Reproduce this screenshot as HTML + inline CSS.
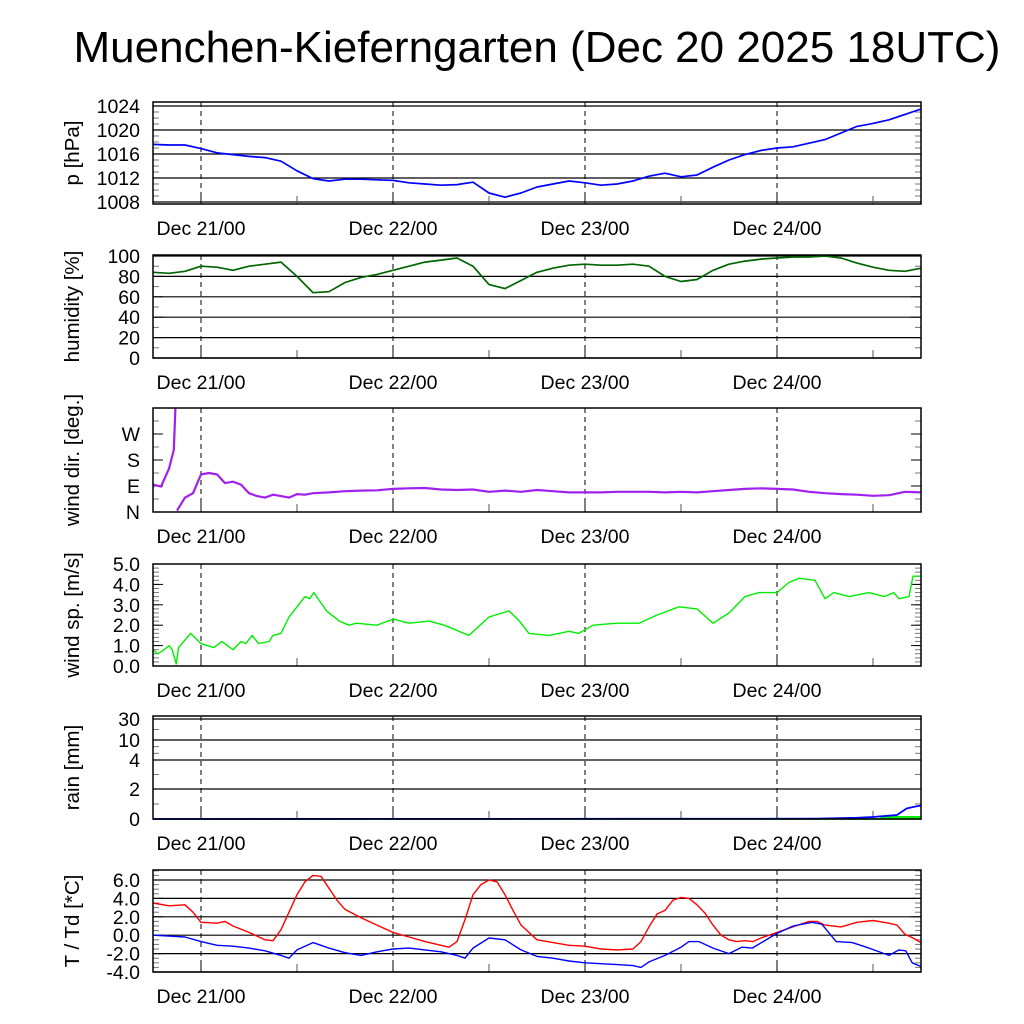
<!DOCTYPE html>
<html><head><meta charset="utf-8"><style>
body{margin:0;background:#fff;}
svg{display:block;font-family:"Liberation Sans",sans-serif;}
</style></head><body>
<svg id="chart" width="1024" height="1024" viewBox="0 0 1024 1024" xmlns="http://www.w3.org/2000/svg">
<text x="537" y="62" font-size="44" text-anchor="middle">Muenchen-Kieferngarten (Dec 20 2025 18UTC)</text>
</svg>
<script>
// ---- data (hours since Dec 20 18UTC) ----
const dayLabels = ["Dec 21/00","Dec 22/00","Dec 23/00","Dec 24/00"];
const dayHours = [6,30,54,78];
const pHours = [0,2,4,6,8,10,12,14,16,18,20,22,24,26,28,30,32,34,36,38,40,42,44,46,48,50,52,54,56,58,60,62,64,66,68,70,72,74,76,78,80,82,84,86,88,90,92,94,96];
const pressure = [1017.6,1017.5,1017.5,1016.9,1016.2,1015.9,1015.6,1015.4,1014.8,1013.2,1011.9,1011.5,1011.8,1011.8,1011.7,1011.6,1011.2,1011.0,1010.8,1010.9,1011.3,1009.5,1008.8,1009.5,1010.5,1011.0,1011.5,1011.2,1010.8,1011.0,1011.5,1012.3,1012.8,1012.2,1012.5,1013.8,1015.0,1015.9,1016.6,1017.0,1017.2,1017.8,1018.4,1019.5,1020.6,1021.1,1021.7,1022.6,1023.5];
const pTicks = [1008,1012,1016,1020,1024];
const humidity = [84,83,85,90,89,86,90,92,94,80,64,65,74,79,82,86,90,94,96,98,90,72,68,76,84,88,91,92,91,91,92,90,80,75,77,86,92,95,97,98,99,99,100,98,93,89,86,85,88];
const hTicks = [0,20,40,60,80,100];
const dirHours = [0,1,2,2.6,2.8,3,4,5,6,7,8,9,10,11,12,13,14,15,16,17,18,19,20,22,24,26,28,30,32,34,36,38,40,42,44,46,48,50,52,54,56,58,60,62,64,66,68,70,72,74,76,78,80,82,84,86,88,90,92,94,96];
const windDir = [95,88,150,215,358,5,50,65,130,135,130,100,105,95,65,55,50,60,55,50,62,60,65,68,72,74,75,80,82,83,78,76,78,70,74,70,76,72,68,68,68,70,70,70,68,70,68,72,76,80,82,80,78,70,65,62,60,56,58,70,68];
const dirTicks = [0,90,180,270];
const dirTickLabels = ["N","E","S","W"];
const spdHours = [0,0.6,1.4,2,2.4,2.9,3.2,4.7,6,7.6,8.6,10,11,11.6,12.4,13.2,14.5,15,16,17,18.2,19,19.6,20.1,21.7,23.3,24.5,25.4,28,30,32,34.5,36.4,39.5,42,44.5,45.8,47,49.5,52,53.2,55,58,60.75,63,65.75,68,70,72,74,75.75,78,79.5,80.75,82.75,84,85.1,87,89.5,91.4,92.6,93.25,94.5,95,96];
const windSpeed = [0.8,0.6,0.8,1.0,0.8,0.1,0.9,1.6,1.1,0.9,1.2,0.8,1.2,1.1,1.5,1.1,1.2,1.5,1.6,2.4,3.0,3.4,3.3,3.6,2.7,2.2,2.0,2.1,2.0,2.3,2.1,2.2,2.0,1.5,2.4,2.7,2.2,1.6,1.5,1.7,1.6,2.0,2.1,2.1,2.5,2.9,2.8,2.1,2.6,3.4,3.6,3.6,4.1,4.3,4.2,3.3,3.6,3.4,3.6,3.4,3.6,3.3,3.4,4.4,4.4];
const spdTicks = [0,1,2,3,4,5];
const rainHours = [0,83,88,90,93,94.2,95,96];
const rainSum = [0,0.02,0.08,0.13,0.27,0.7,0.8,0.9];
const rateHours = [0,91,91.01,96];
const rainRate = [0,0,0.15,0.15];
const rainTicks = [0,2,4,10,30];
const tHours = [0,2,4,5,6,8,9,10,12,14,15,16,17,18,19,20,21,22,23,24,26,28,30,32,34,36,37,38,39,40,41,42,43,44,45,46,48,50,52,54,56,58,60,61,62,63,64,65,66,67,68,69,70,71,72,73,74,75,76,78,80,82,83,84,86,88,90,92,93,94,95,96];
const temp = [3.5,3.2,3.3,2.5,1.4,1.3,1.5,1.0,0.3,-0.5,-0.6,0.6,2.5,4.4,5.8,6.5,6.4,5.1,3.8,2.8,1.9,1.1,0.3,-0.2,-0.7,-1.1,-1.3,-0.7,1.7,4.4,5.5,6.0,5.8,4.4,2.7,1.1,-0.5,-0.8,-1.1,-1.2,-1.5,-1.6,-1.5,-0.7,0.9,2.3,2.7,3.8,4.1,4.0,3.3,2.4,1.1,0.0,-0.5,-0.7,-0.6,-0.7,-0.3,0.3,0.9,1.5,1.5,1.1,0.9,1.4,1.6,1.3,1.1,0.1,-0.3,-0.8];
const tdHours = [0,2,4,6,8,10,12,14,16,17,18,19,20,21,22,24,26,28,30,32,34,36,38,39,40,42,44,46,48,50,52,54,56,58,60,61,62,64,66,67,68.25,70,72,73.6,74.9,78,80,82.4,83.6,85.4,87.4,89.5,92,93.25,94.1,94.9,96];
const dewpoint = [0.0,-0.1,-0.2,-0.7,-1.1,-1.2,-1.4,-1.7,-2.2,-2.5,-1.6,-1.2,-0.8,-1.1,-1.4,-1.9,-2.2,-1.8,-1.5,-1.4,-1.6,-1.8,-2.2,-2.5,-1.4,-0.3,-0.5,-1.6,-2.3,-2.5,-2.8,-3.0,-3.1,-3.2,-3.3,-3.5,-2.9,-2.2,-1.3,-0.7,-0.7,-1.4,-2.0,-1.3,-1.4,0.2,1.0,1.4,1.2,-0.7,-0.8,-1.4,-2.2,-1.6,-1.7,-3.0,-3.4];
const tTicks = [-4,-2,0,2,4,6];

const NS="http://www.w3.org/2000/svg";
const svg=document.getElementById('chart');
const X0=153,X1=921,H=96;
const xs=h=>X0+(X1-X0)*h/H;
function el(tag,attrs,parent){const e=document.createElementNS(NS,tag);for(const k in attrs)e.setAttribute(k,attrs[k]);(parent||svg).appendChild(e);return e;}

function panel(id,top,bot,title,ysc,ticks,tickLabels,grid,minor){
  const g=el('g',{});
  
  
  if(grid){ticks.forEach(v=>{const y=ysc(v);const l=el('line',{x1:X0,x2:X1,y1:y,y2:y,stroke:'#000','stroke-width':1.2},g);
    
    });}
  minor.forEach(v=>{const y=ysc(v);el('line',{x1:X0,x2:X0+6,y1:y,y2:y,stroke:'#777','stroke-width':1},g);el('line',{x1:X1-6,x2:X1,y1:y,y2:y,stroke:'#777','stroke-width':1},g);});
  ticks.forEach(v=>{const y=ysc(v);el('line',{x1:X0,x2:X0+10,y1:y,y2:y,stroke:'#000','stroke-width':1},g);el('line',{x1:X1-10,x2:X1,y1:y,y2:y,stroke:'#000','stroke-width':1},g);});
  dayHours.forEach((h,i)=>{const x=xs(h);const l=el('line',{x1:x,x2:x,y1:top,y2:bot,stroke:'#000','stroke-width':1,'stroke-dasharray':'5,4'},g);
    
    
    el('line',{x1:x,x2:x,y1:bot-10,y2:bot,stroke:'#000','stroke-width':1},g);
    const t=el('text',{x:x,y:bot+31,'font-size':19.5,'text-anchor':'middle'},g);t.textContent=dayLabels[i];
    
    
    el('line',{x1:xs(h+12),x2:xs(h+12),y1:bot-8,y2:bot,stroke:'#555','stroke-width':1},g);
  });
  ticks.forEach((v,i)=>{const t=el('text',{x:X0-13,y:ysc(v)+7,'font-size':19.5,'text-anchor':'end'},g);t.textContent=tickLabels[i];
    
    });
  const cy=(top+bot)/2;
  const tt=el('text',{x:0,y:0,'font-size':20.5,'text-anchor':'middle',transform:`translate(79,${cy}) rotate(-90)`},g);tt.textContent=title;
  
  
  return g;
}
function frame(g,top,bot){el('rect',{x:X0,y:top,width:X1-X0,height:bot-top,fill:'none',stroke:'#000','stroke-width':1.5},g);}
function line(g,hours,vals,ysc,color,name,w){
  let d='';hours.forEach((h,i)=>{d+=(i?'L':'M')+xs(h).toFixed(1)+','+ysc(vals[i]).toFixed(1);});
  const p=el('path',{d:d,fill:'none',stroke:color,'stroke-width':w||1.7,'stroke-linejoin':'round'},g);
  
  
  return p;
}
const rng=(a,b,s)=>{const r=[];for(let v=a;v<=b+1e-9;v+=s)r.push(+v.toFixed(3));return r;};

{const top=102,bot=204;const ys=v=>106+(1024-v)*6;
 const g=panel('pressure',top,bot,'p [hPa]',ys,pTicks,pTicks.map(String),true,rng(1008,1024,1));
 line(g,pHours,pressure,ys,'#0000ff','pressure-line');frame(g,top,bot);}
{const top=255,bot=358;const ys=v=>358-v*1.02;
 const g=panel('humidity',top,bot,'humidity [%]',ys,hTicks,hTicks.map(String),true,rng(0,100,10));
 line(g,pHours,humidity,ys,'#006400','humidity-line');frame(g,top,bot);}
{const top=408,bot=512;const ys=v=>512-v*26/90;
 const g=panel('wind-dir',top,bot,'wind dir. [deg.]',ys,dirTicks,dirTickLabels,false,rng(0,360,45));
 let segH=[dirHours[0]],segV=[windDir[0]];
 for(let i=1;i<dirHours.length;i++){
   if(Math.abs(windDir[i]-windDir[i-1])>180){line(g,segH,segV,ys,'#a020f0','wind-dir-line',2.2);segH=[];segV=[];}
   segH.push(dirHours[i]);segV.push(windDir[i]);
 }
 line(g,segH,segV,ys,'#a020f0','wind-dir-line',2.2);frame(g,top,bot);}
{const top=564,bot=666;const ys=v=>666-v*20.4;
 const g=panel('wind-speed',top,bot,'wind sp. [m/s]',ys,spdTicks,spdTicks.map(v=>v.toFixed(1)),false,rng(0,5,0.2));
 line(g,spdHours,windSpeed,ys,'#00ee00','wind-speed-line',1.4);frame(g,top,bot);}
{const top=716,bot=819;const tv=[0,2,4,10,30],ty=[819,789,760,740,719];
 const ys=v=>{for(let i=1;i<tv.length;i++){if(v<=tv[i])return ty[i-1]+(ty[i]-ty[i-1])*(v-tv[i-1])/(tv[i]-tv[i-1]);}return ty[ty.length-1];};
 const g=panel('rain',top,bot,'rain [mm]',ys,rainTicks,rainTicks.map(String),true,[1,3,6,8,20]);
 let d='M'+xs(rateHours[0])+','+ys(0);rateHours.forEach((h,i)=>{d+='L'+xs(h).toFixed(1)+','+ys(rainRate[i]).toFixed(1);});d+='L'+xs(rateHours[rateHours.length-1])+','+ys(0)+'Z';
 const a=el('path',{d:d,fill:'#00ee00',stroke:'#00ee00','stroke-width':1.5},g);
 
 
 line(g,rainHours,rainSum,ys,'#0000ff','rain-sum-line',1.8);frame(g,top,bot);}
{const top=870,bot=972;const ys=v=>880+(6-v)*9.2;
 const g=panel('temperature',top,bot,'T / Td [*C]',ys,tTicks,tTicks.map(v=>v.toFixed(1)),true,rng(-4,7,0.5));
 line(g,tHours,temp,ys,'#ff0000','temperature-line',1.4);
 line(g,tdHours,dewpoint,ys,'#0000ff','dewpoint-line',1.4);frame(g,top,bot);}
</script>
</body></html>
